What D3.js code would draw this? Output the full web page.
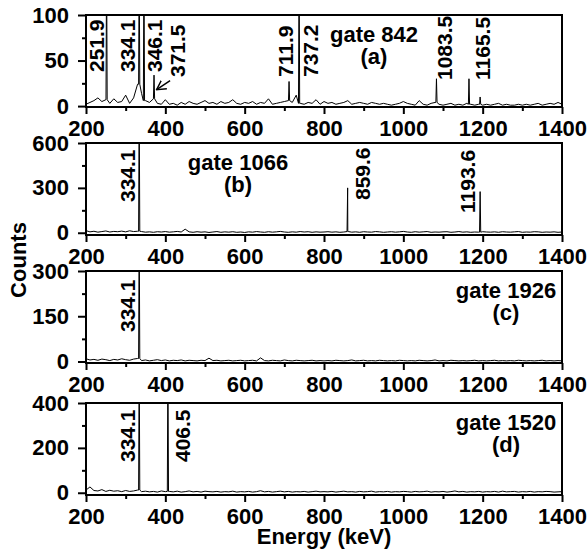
<!DOCTYPE html>
<html>
<head>
<meta charset="utf-8">
<script src="https://cdn.jsdelivr.net/npm/d3@7"></script>
<style>
  body { margin: 0; background: #fff; }
  svg { font-family: "Liberation Sans", Arial, sans-serif; font-weight: bold; }
</style>
</head>
<body>
<div id="vis"></div>
<script>

// frame constants
const FRAME_WIDTH = 588;
const FRAME_HEIGHT = 550;
const PLOT_LEFT = 86;
const PLOT_RIGHT = 562;
const PANEL_HEIGHT = 92;

// background counts, one value every 10 keV from 200 to 1400 keV
const E_START = 200;
const E_STEP = 10;

const BG_A = [2, 4, 6, 9, 5, 7, 3, 8, 4, 5, 12, 3, 9, 24, 14, 6, 4, 8, 3, 2, 7,
  2, 3, 1, 4, 2, 5, 3, 2, 4, 6,
  3, 4, 2, 5, 3, 4, 7, 3, 2, 4,
  3, 5, 2, 4, 3, 8, 2, 3, 4, 5,
  6, 4, 12, 3, 2, 4, 3, 7, 2, 5,
  3, 4, 2, 3, 4, 6, 2, 3, 4, 3,
  2, 4, 3, 2, 3, 2, 1, 2, 3, 5,
  3, 2, 1, 6, 2, 1, 3, 4, 2, 1,
  2, 3, 1, 2, 1, 3, 2, 1, 2, 1,
  2, 1, 2, 3, 1, 2, 1, 1, 2, 1,
  2, 1, 2, 3, 1, 2, 3, 2, 4, 2];

const BG_B = [14, 6, 10, 4, 8, 12, 5, 9, 7, 11, 6, 13, 8, 10,
  8, 4, 6, 3, 7, 5, 8, 4, 6, 9, 5, 24, 6,
  3, 7, 4, 6, 2, 5, 8, 3, 6, 4, 7, 3, 5, 2,
  6, 4, 8, 5, 3, 7, 4, 6, 9, 5, 3, 6, 4, 8, 5, 7, 3, 6, 4, 5,
  7, 4, 6, 3, 5, 8, 4, 6, 3, 7, 5, 4, 8, 6, 3, 5, 7, 4, 6, 9,
  5, 3, 7, 4, 6, 8, 3, 5, 4, 6, 7, 3, 5, 8, 4, 6, 3, 5, 4, 7,
  5, 4, 6, 3, 7, 5, 4, 6, 8, 3, 5, 4, 7, 6, 3, 5, 4, 6, 3, 5];

const BG_C = [9, 5, 7, 4, 8, 6, 3, 7, 5, 9, 6, 4, 8, 10,
  3, 5, 2, 4, 6, 3, 5, 2, 4, 3, 5, 2, 4,
  3, 2, 4, 3, 11, 3, 4, 2, 3, 4, 2, 3, 4, 2,
  3, 4, 2, 12, 3, 2, 4, 3, 2, 5, 3, 2, 4, 3, 2, 3, 4, 2, 3, 2,
  3, 2, 4, 3, 2, 3, 5, 2, 3, 4, 2, 3, 2, 4, 3, 2, 3, 2, 4, 3,
  2, 3, 2, 4, 3, 2, 3, 5, 2, 3, 2, 4, 3, 2, 3, 2, 3, 4, 2, 3,
  2, 3, 4, 2, 3, 2, 3, 2, 4, 3, 2, 3, 2, 3, 4, 2, 3, 2, 3, 2];

const BG_D = [12, 26, 10, 8, 14, 6, 11, 7, 9, 5, 10, 6, 8, 12,
  5, 7, 4, 6, 3, 8, 5,
  6, 4, 7, 3, 5, 8, 4, 6, 3, 7, 5, 4, 6, 3, 5, 4, 7, 3, 5, 4,
  6, 3, 5, 9, 4, 6, 3, 5, 7, 4, 6, 3, 5, 4, 6, 3, 5, 7, 4, 5,
  4, 6, 3, 5, 7, 4, 5, 3, 6, 4, 5, 7, 3, 5, 4, 6, 3, 5, 4, 6,
  5, 3, 6, 4, 5, 7, 3, 5, 4, 6, 3, 5, 8, 4, 6, 3, 5, 4, 6, 3,
  5, 4, 6, 3, 7, 4, 5, 6, 3, 5, 4, 6, 3, 5, 4, 6, 5, 3, 4, 5];

// peak energies (keV) and heights (counts); tall peaks run off the top
const PEAK_E_A = [251.9, 334.1, 346.1, 371.5, 711.9, 737.2, 1083.5, 1165.5, 1193.6];
const PEAK_H_A = [160, 160, 160, 34, 27, 160, 30, 30, 10];
const PEAK_E_B = [334.1, 859.6, 1193.6];
const PEAK_H_B = [900, 300, 275];
const PEAK_E_C = [334.1];
const PEAK_H_C = [450];
const PEAK_E_D = [334.1, 406.5];
const PEAK_H_D = [600, 600];

// labelled peaks
const LABEL_A = [251.9, 334.1, 346.1, 371.5, 711.9, 737.2, 1083.5, 1165.5];
const LABEL_B = [334.1, 859.6, 1193.6];
const LABEL_C = [334.1];
const LABEL_D = [334.1, 406.5];

const GATES = ["gate 842", "gate 1066", "gate 1926", "gate 1520"];
const TAGS = ["(a)", "(b)", "(c)", "(d)"];

// tick labels
const X_TICKS = [200, 400, 600, 800, 1000, 1200, 1400];
const X_MINOR = [300, 500, 700, 900, 1100, 1300];

// arrow pointing at the 371.5 peak, in data units [keV, counts]
const ARROW_FROM = [412, 28];
const ARROW_TO = [378, 18];

// panel layout
const PANELS = [
  {bg: BG_A, pe: PEAK_E_A, ph: PEAK_H_A, labels: LABEL_A, top: 15, ydom: [-1, 100],
   yticks: [0, 50, 100], yminor: [25, 75], gateX: 374,
   labelDx: [-3, -4, 18, 31, 4, 19, 16, 21], labelY: [57, 57, 57, 62, 62, 62, 65, 65]},
  {bg: BG_B, pe: PEAK_E_B, ph: PEAK_H_B, labels: LABEL_B, top: 143, ydom: [-15, 600],
   yticks: [0, 300, 600], yminor: [150, 450], gateX: 238,
   labelDx: [-4, 22, -5], labelY: [59, 57, 70]},
  {bg: BG_C, pe: PEAK_E_C, ph: PEAK_H_C, labels: LABEL_C, top: 271, ydom: [-5, 300],
   yticks: [0, 150, 300], yminor: [75, 225], gateX: 506,
   labelDx: [-4], labelY: [61]},
  {bg: BG_D, pe: PEAK_E_D, ph: PEAK_H_D, labels: LABEL_D, top: 403, ydom: [-10, 400],
   yticks: [0, 200, 400], yminor: [100, 300], gateX: 506,
   labelDx: [-4, 22], labelY: [59, 59]}
];

const SVG = d3.select("#vis")
              .append("svg")
                .attr("width", FRAME_WIDTH)
                .attr("height", FRAME_HEIGHT);

// arrow head marker
SVG.append("defs")
   .append("marker")
     .attr("id", "arrowhead")
     .attr("markerUnits", "userSpaceOnUse")
     .attr("viewBox", "0 -6 10 12")
     .attr("refX", 9)
     .attr("refY", 0)
     .attr("markerWidth", 10)
     .attr("markerHeight", 12)
     .attr("orient", "auto")
   .append("path")
     .attr("d", "M0,-5L9,0L0,5")
     .attr("fill", "none")
     .attr("stroke", "#000")
     .attr("stroke-width", 1.5);

const X_SCALE = d3.scaleLinear()
                  .domain([200, 1400])
                  .range([PLOT_LEFT, PLOT_RIGHT]);

PANELS.forEach((p, i) => {

  const Y_SCALE = d3.scaleLinear()
                    .domain(p.ydom)
                    .range([p.top + PANEL_HEIGHT, p.top]);

  // build spectrum points: background bins plus narrow peak spikes
  let pts = p.bg.map((c, k) => [E_START + k * E_STEP, c]);
  p.pe.forEach((e, k) => {
    const base = p.bg[Math.round((e - E_START) / E_STEP)];
    pts.push([e - 1.5, base], [e, p.ph[k]], [e + 1.5, base]);
  });
  pts.sort((a, b) => a[0] - b[0]);

  // clip to the plot box
  SVG.append("clipPath")
       .attr("id", "clip" + i)
     .append("rect")
       .attr("x", PLOT_LEFT)
       .attr("y", p.top)
       .attr("width", PLOT_RIGHT - PLOT_LEFT)
       .attr("height", PANEL_HEIGHT);

  SVG.append("path")
       .datum(pts)
       .attr("clip-path", "url(#clip" + i + ")")
       .attr("fill", "none")
       .attr("stroke", "#000")
       .attr("stroke-width", 1)
       .attr("d", d3.line()
                    .x((d) => { return X_SCALE(d[0]); })
                    .y((d) => { return Y_SCALE(d[1]); }));

  // x axis, major and minor ticks
  const xg = SVG.append("g")
                  .attr("transform", "translate(0," + (p.top + PANEL_HEIGHT) + ")")
                  .call(d3.axisBottom(X_SCALE).tickValues(X_TICKS)
                          .tickSize(7).tickPadding(6).tickFormat(d3.format("d")));
  const xm = SVG.append("g")
                  .attr("transform", "translate(0," + (p.top + PANEL_HEIGHT) + ")")
                  .call(d3.axisBottom(X_SCALE).tickValues(X_MINOR)
                          .tickSize(4).tickFormat(""));

  // y axis, major and minor ticks
  const yg = SVG.append("g")
                  .attr("transform", "translate(" + PLOT_LEFT + ",0)")
                  .call(d3.axisLeft(Y_SCALE).tickValues(p.yticks)
                          .tickSize(8).tickPadding(9));
  const ym = SVG.append("g")
                  .attr("transform", "translate(" + PLOT_LEFT + ",0)")
                  .call(d3.axisLeft(Y_SCALE).tickValues(p.yminor)
                          .tickSize(4).tickFormat(""));

  [xg, xm, yg, ym].forEach((g) => {
    g.select(".domain").remove();
    g.selectAll("line").attr("stroke-width", 2);
    g.selectAll("text")
       .attr("font-size", "22px")
       .attr("font-weight", "bold")
       .attr("font-family", "'Liberation Sans', Arial, sans-serif")
       .attr("fill", "#000");
  });

  // frame box
  SVG.append("rect")
       .attr("x", PLOT_LEFT)
       .attr("y", p.top)
       .attr("width", PLOT_RIGHT - PLOT_LEFT)
       .attr("height", PANEL_HEIGHT)
       .attr("fill", "none")
       .attr("stroke", "#000")
       .attr("stroke-width", 2);

  // peak labels, rotated
  SVG.selectAll(".plabel" + i)
     .data(p.labels)
     .enter()
     .append("text")
       .attr("class", "plabel" + i)
       .attr("transform", (d, k) => {
         return "translate(" + (X_SCALE(d) + p.labelDx[k]) + "," + (p.top + p.labelY[k]) + ") rotate(-90)";
       })
       .attr("font-size", "21px")
       .text((d) => { return d.toFixed(1); });

  // gate text
  SVG.append("text")
       .attr("x", p.gateX)
       .attr("y", p.top + 27)
       .attr("text-anchor", "middle")
       .attr("font-size", "22px")
       .text(GATES[i]);
  SVG.append("text")
       .attr("x", p.gateX)
       .attr("y", p.top + 49)
       .attr("text-anchor", "middle")
       .attr("font-size", "22px")
       .text(TAGS[i]);

  if (i === 0) {
    SVG.append("line")
         .attr("x1", X_SCALE(ARROW_FROM[0]))
         .attr("y1", Y_SCALE(ARROW_FROM[1]))
         .attr("x2", X_SCALE(ARROW_TO[0]))
         .attr("y2", Y_SCALE(ARROW_TO[1]))
         .attr("stroke", "#000")
         .attr("stroke-width", 1.5)
         .attr("marker-end", "url(#arrowhead)");
  }
});

// axis titles
SVG.append("text")
     .attr("transform", "translate(26,260) rotate(-90)")
     .attr("text-anchor", "middle")
     .attr("font-size", "22px")
     .text("Counts");

SVG.append("text")
     .attr("x", 324)
     .attr("y", 544)
     .attr("text-anchor", "middle")
     .attr("font-size", "22px")
     .text("Energy (keV)");

</script>
</body>
</html>
